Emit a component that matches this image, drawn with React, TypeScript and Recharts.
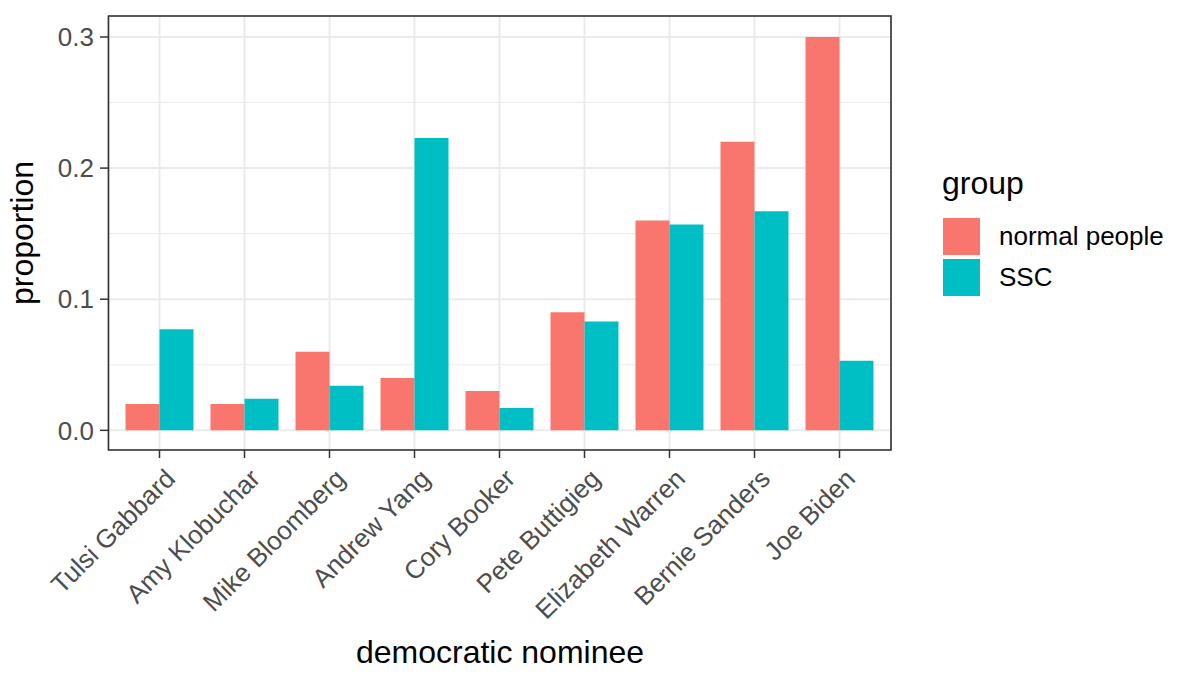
import React from "react"
import {
  BarChart,
  Bar,
  XAxis,
  YAxis,
  CartesianGrid,
} from "recharts"

const nominees = [
  "Tulsi Gabbard",
  "Amy Klobuchar",
  "Mike Bloomberg",
  "Andrew Yang",
  "Cory Booker",
  "Pete Buttigieg",
  "Elizabeth Warren",
  "Bernie Sanders",
  "Joe Biden",
]
const normalPeople = [0.02, 0.02, 0.06, 0.04, 0.03, 0.09, 0.16, 0.22, 0.3]
const ssc = [0.077, 0.024, 0.034, 0.223, 0.017, 0.083, 0.157, 0.167, 0.053]
const yTicks = [0, 0.1, 0.2, 0.3]
const yMinor = [0.05, 0.15, 0.25]
const groups = [
  { key: "normal", label: "normal people" },
  { key: "ssc", label: "SSC" },
]

const data = nominees.map((name, i) => ({
  name,
  normal: normalPeople[i],
  ssc: ssc[i],
}))

const FONT = "'Liberation Sans', Arial, sans-serif"
const COLORS: Record<string, string> = { normal: "#F8766D", ssc: "#00BFC4" }

const XTick = (props: any) => {
  const { x, y, payload } = props
  const ax = x + 8
  const ay = y + 13
  return (
    <text
      x={ax}
      y={ay}
      dy="0.5em"
      textAnchor="end"
      transform={`rotate(-45, ${ax}, ${ay})`}
      fontSize={26}
      fontFamily={FONT}
      fill="#4D4D4D"
    >
      {payload.value}
    </text>
  )
}

// legend drawn outside recharts so it doesn't eat into the plot area
const GroupLegend = () => (
  <div
    style={{
      position: "absolute",
      left: 942,
      top: 160,
      width: 250,
      height: 150,
      fontFamily: FONT,
    }}
  >
    <div style={{ position: "absolute", left: 0, top: 8, fontSize: 32, lineHeight: "31px", color: "#000" }}>
      group
    </div>
    {groups.map((g, i) => (
      <div key={g.key}>
        <div
          style={{
            position: "absolute",
            left: 1,
            top: 58 + i * 41,
            width: 37,
            height: 37,
            background: COLORS[g.key],
          }}
        />
        <div
          style={{
            position: "absolute",
            left: 57,
            top: 58 + i * 41,
            height: 37,
            lineHeight: "37px",
            fontSize: 26,
            color: "#000",
            whiteSpace: "nowrap",
          }}
        >
          {g.label}
        </div>
      </div>
    ))}
  </div>
)

export default function App() {
  return (
    <div style={{ position: "relative", width: 1200, height: 686, margin: -8, background: "#fff" }}>
      <BarChart
        width={1200}
        height={686}
        data={data}
        margin={{ top: 16, right: 309, bottom: 106, left: 48 }}
        barCategoryGap="10%"
        barGap={0}
      >
        <CartesianGrid
          horizontalValues={yMinor}
          vertical={false}
          stroke="#EBEBEB"
          strokeWidth={1}
        />
        <CartesianGrid
          horizontalValues={yTicks}
          stroke="#EBEBEB"
          strokeWidth={2}
        />
        <XAxis
          dataKey="name"
          interval={0}
          height={130}
          padding={{ left: 9, right: 9 }}
          axisLine={false}
          tickSize={8}
          tickMargin={0}
          tickLine={{ stroke: "#333333", strokeWidth: 1.5 }}
          tick={<XTick />}
        />
        <YAxis
          width={60}
          domain={[-0.015, 0.316]}
          allowDataOverflow
          ticks={yTicks}
          tickFormatter={(v: number) => v.toFixed(1)}
          axisLine={false}
          tickSize={8}
          tickMargin={6}
          tickLine={{ stroke: "#333333", strokeWidth: 1.5 }}
          tick={{ fontSize: 26, fill: "#4D4D4D", fontFamily: FONT }}
        />
        {groups.map((g) => (
          <Bar key={g.key} dataKey={g.key} name={g.label} fill={COLORS[g.key]} isAnimationActive={false} />
        ))}

        <rect x={108.5} y={16} width={782.5} height={434} fill="none" stroke="#333333" strokeWidth={1.6} />
        <text
          x={33}
          y={233}
          transform="rotate(-90, 33, 233)"
          textAnchor="middle"
          fontSize={32}
          fontFamily={FONT}
          fill="#000"
        >
          proportion
        </text>
        <text x={500} y={663} textAnchor="middle" fontSize={32} fontFamily={FONT} fill="#000">
          democratic nominee
        </text>
      </BarChart>
      <GroupLegend />
    </div>
  )
}
